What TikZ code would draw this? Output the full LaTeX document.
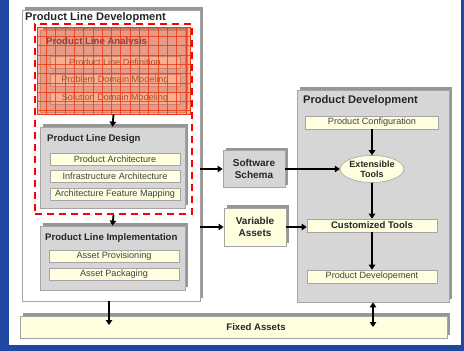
\documentclass[tikz,border=0pt]{standalone}
\usepackage{fontspec}
\setmainfont{Liberation Sans}
\usetikzlibrary{arrows.meta,shadows,shapes.geometric}

\definecolor{bgblue}{RGB}{30,72,162}
\definecolor{panelgray}{RGB}{214,214,214}
\definecolor{edgegray}{RGB}{165,165,165}
\definecolor{shadegray}{RGB}{150,150,150}
\definecolor{itemyellow}{RGB}{255,255,224}
\definecolor{hatchred}{RGB}{248,95,55}
\definecolor{gridred}{RGB}{240,55,20}

\tikzset{
  shbox/.style={rectangle, draw=edgegray, line width=0.8pt, inner sep=0pt,
    general shadow={shadow xshift=3pt, shadow yshift=3pt, fill=shadegray}},
  graybox/.style={shbox, fill=panelgray},
  itembox/.style={rectangle, draw=edgegray, line width=0.6pt, fill=itemyellow, inner sep=0pt,
    minimum width=130pt, minimum height=12pt,
    font=\fontsize{9.1}{10}\selectfont, text=black!75},
  ttl/.style={anchor=west, inner sep=0pt, font=\bfseries\fontsize{9.6}{10}\selectfont, text=black!85},
  bigttl/.style={anchor=west, inner sep=0pt, font=\bfseries\fontsize{11.1}{12}\selectfont, text=black!85},
  boldtxt/.style={font=\bfseries\fontsize{9.6}{10.5}\selectfont, text=black!85, align=center},
  flow/.style={line width=1.8pt, -{Triangle[length=5pt,width=6.5pt]}},
  dflow/.style={line width=1.8pt, {Triangle[length=5pt,width=6.5pt]}-{Triangle[length=5pt,width=6.5pt]}},
}

\begin{document}
\begin{tikzpicture}[x=1pt, y=-1pt]
\useasboundingbox (0,0) rectangle (464,351);
% backdrop
\fill[bgblue] (0,0) rectangle (464,351);
\fill[white] (9,0) rectangle (461,345);

% ---- Product Line Development ----
\node[shbox, fill=white, minimum width=178pt, minimum height=291pt] (pld) at (111,155.5) {};
\node[bigttl] (pldt) at (25,18) {Product Line Development};

% Product Line Analysis
\node[graybox, minimum width=145pt, minimum height=82pt] (ana) at (112.5,71) {};
\node[ttl] (anat) at (46,42) {Product Line Analysis};
\node[itembox] (ana1) at (115,62.5) {Product Line Definition};
\node[itembox] (ana2) at (115,80.5) {Problem Domain Modeling};
\node[itembox] (ana3) at (115,98.5) {Solution Domain Modeling};

% red hatched overlay on the analysis stage
\node[rectangle, inner sep=0pt, minimum width=153pt, minimum height=87pt,
  fill=hatchred, fill opacity=0.5, draw=gridred, line width=0.8pt] (hatch) at (113.5,70.5) {};
\begin{scope}
  \clip (37,27) rectangle (190,114);
  \foreach \gx in {37,46.3,...,191} \draw[gridred, opacity=0.8, line width=0.6pt] (\gx,27) -- (\gx,114);
  \foreach \gy in {27,36.3,...,115} \draw[gridred, opacity=0.8, line width=0.6pt] (37,\gy) -- (190,\gy);
\end{scope}

% Product Line Design
\node[graybox, minimum width=145pt, minimum height=81pt] (des) at (112.5,167.5) {};
\node[ttl] (dest) at (47,139) {Product Line Design};
\node[itembox] (des1) at (115,159) {Product Architecture};
\node[itembox] (des2) at (115,176.5) {Infrastructure Architecture};
\node[itembox] (des3) at (115,194.5) {Architecture Feature Mapping};

% dashed frame around analysis and design
\node[rectangle, draw=red, line width=2pt, dash pattern=on 7pt off 5pt,
  minimum width=157pt, minimum height=190pt, inner sep=0pt] (frame) at (113.5,119) {};

% Product Line Implementation
\node[graybox, minimum width=145pt, minimum height=64pt] (imp) at (112.5,258) {};
\node[ttl] (impt) at (45,238) {Product Line Implementation};
\node[itembox] (imp1) at (114,256.5) {Asset Provisioning};
\node[itembox] (imp2) at (114,274.5) {Asset Packaging};

\draw[flow] (hatch.south) -- (des.north);
\draw[flow] (frame.south) -- (imp.north);

% ---- shared assets ----
\node[graybox, minimum width=62pt, minimum height=37pt, boldtxt, font=\bfseries\fontsize{10}{11.5}\selectfont] (ss) at (254,169) {Software\\Schema};
\node[shbox, fill=itemyellow, minimum width=62pt, minimum height=38pt, boldtxt, font=\bfseries\fontsize{10}{11.5}\selectfont] (va) at (255,227) {Variable\\Assets};

% ---- Product Development ----
\node[graybox, minimum width=152pt, minimum height=212pt] (pd) at (373,196) {};
\node[bigttl] (pdt) at (303,101) {Product Development};
\node[itembox, minimum width=133pt, minimum height=13pt] (pc) at (372,122.5) {Product Configuration};
\node[ellipse, draw=edgegray, line width=0.6pt, fill=itemyellow, inner sep=0pt,
  minimum width=57pt, minimum height=27pt, boldtxt, font=\bfseries\fontsize{9}{10}\selectfont] (ext) at (372,169) {Extensible\\Tools};
\node[itembox, minimum height=13pt, boldtxt] (ct) at (372,225.5) {Customized Tools};
\node[itembox, minimum height=13pt] (pdv) at (372,276.5) {Product Developement};

\draw[flow] (pc.south) -- (ext.north);
\draw[flow] (ext.south) -- (ct.north);
\draw[flow] (ct.south) -- (pdv.north);

% ---- Fixed Assets ----
\node[shbox, fill=itemyellow, minimum width=427pt, minimum height=22pt] (fa) at (233.5,327) {};
\node[boldtxt] (fat) at (256,327) {Fixed Assets};

% connectors between the stages
\draw[flow] (pld.east |- ss.west) -- (ss.west);
\draw[flow] (pld.east |- va.west) -- (va.west);
\draw[flow] (ss.east) -- (ext.west);
\draw[flow] (va.east) -- (va.east -| ct.west);
\coordinate (faL) at (109,325);
\coordinate (faR) at (373,327);
\draw[flow] (pld.south -| faL) -- (faL);
\draw[dflow] (pd.south -| faR) -- (faR);
\end{tikzpicture}
\end{document}
